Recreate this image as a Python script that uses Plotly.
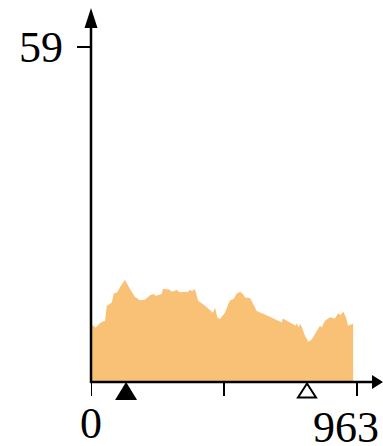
import plotly.graph_objects as go

# ---- data ----
x_vals = [0, 17, 35, 51, 57, 66, 75, 83, 95, 105, 123, 141, 159, 177, 195, 214, 226, 235,
          256, 260, 284, 292, 311, 320, 353, 358, 365, 376, 388, 406, 430, 442, 449, 457,
          467, 485, 502, 516, 528, 540, 550, 558, 576, 600, 648, 691, 694, 709, 742, 745,
          751, 757, 763, 775, 787, 799, 817, 829, 835, 847, 865, 883, 895, 904, 913, 923,
          931, 947, 949]
y_vals = [10.2, 9.6, 10.5, 10.8, 13.4, 13.7, 14.0, 15.6, 15.8, 16.7, 18.0, 16.4, 15.0, 14.4,
          14.5, 15.3, 15.5, 15.2, 15.5, 16.4, 16.3, 15.9, 16.2, 15.8, 15.9, 16.3, 16.0, 16.4,
          14.3, 13.7, 12.8, 12.2, 13.1, 11.4, 11.1, 12.2, 14.3, 14.6, 15.6, 15.9, 15.5, 14.9,
          14.8, 12.5, 11.5, 10.5, 11.2, 10.8, 9.9, 10.4, 9.6, 10.2, 9.7, 8.1, 7.1, 7.5, 9.0,
          9.9, 9.6, 10.8, 11.4, 11.2, 12.1, 11.8, 12.4, 11.4, 9.9, 10.3, 10.3]
x_ticks = [0, 481.5, 963]
x_tick_labels = ["0", "963"]
y_max = 59
filled_marker_x = [127]
open_marker_x = [782]

W, H = 383, 446
L, B = 91, 44
plot_w, plot_h = W - L, H - B
ZERO_PY = 382           # pixel row of y = 0
k = 335 / y_max         # pixels per y unit
x_range = [0, 963 * plot_w / 266]
y_range = [-(plot_h - ZERO_PY) / k, ZERO_PY / k]

def px(p):
    return (p - L) / plot_w

def py(p):
    return (plot_h - p) / plot_h

FILL = "#F8C176"
FONT = dict(family="Liberation Serif", size=44, color="black")

fig = go.Figure()
fig.add_trace(go.Scatter(x=x_vals, y=y_vals, mode="lines", fill="tozeroy",
                         fillcolor=FILL, line=dict(width=0, color=FILL),
                         hoverinfo="skip", showlegend=False))

shapes = [
    # y axis line + arrow
    dict(type="line", xref="paper", yref="paper", x0=px(91), x1=px(91), y0=py(383), y1=py(25),
         line=dict(color="black", width=2.5)),
    dict(type="path", xref="paper", yref="paper",
         path=f"M{px(84.5)},{py(28)} L{px(97.5)},{py(28)} L{px(91)},{py(8)} Z",
         fillcolor="black", line=dict(width=0)),
    # x axis line + arrow
    dict(type="line", xref="paper", yref="paper", x0=px(90), x1=px(374), y0=py(382), y1=py(382),
         line=dict(color="black", width=2.5)),
    dict(type="path", xref="paper", yref="paper",
         path=f"M{px(372)},{py(375)} L{px(372)},{py(389)} L{px(383)},{py(382)} Z",
         fillcolor="black", line=dict(width=0)),
]
# x tick marks
for t in x_ticks:
    shapes.append(dict(type="line", xref="x", yref="paper", x0=t, x1=t, y0=py(382), y1=py(396),
                       line=dict(color="black", width=2)))
# triangle markers (pixel-sized, anchored at data x on y = 0)
for mx in filled_marker_x:
    shapes.append(dict(type="path", xref="x", yref="y", xsizemode="pixel", ysizemode="pixel",
                       xanchor=mx, yanchor=0, path="M-11,-18 L11,-18 L0,0 Z",
                       fillcolor="black", line=dict(width=0), layer="above"))
for mx in open_marker_x:
    shapes.append(dict(type="path", xref="x", yref="y", xsizemode="pixel", ysizemode="pixel",
                       xanchor=mx, yanchor=0, path="M-9,-15.5 L9,-15.5 L0,-1.5 Z",
                       fillcolor="white", line=dict(width=2, color="black"), layer="above"))

annotations = [
    dict(x=x_ticks[0], y=0, xref="x", yref="y", text=x_tick_labels[0], showarrow=False,
         xanchor="center", yanchor="middle", yshift=-41, height=36, font=FONT),
    dict(x=x_ticks[2], y=0, xref="x", yref="y", text=x_tick_labels[1], showarrow=False,
         xanchor="center", yanchor="middle", yshift=-45, xshift=-11, height=32, font=FONT),
    dict(x=0, y=y_max, xref="x", yref="y", text=str(y_max), showarrow=False,
         xanchor="center", yanchor="middle", xshift=-50, font=FONT),
]

fig.update_layout(
    width=W, height=H, margin=dict(l=L, r=0, t=0, b=B),
    paper_bgcolor="white", plot_bgcolor="white",
    shapes=shapes, annotations=annotations,
    xaxis=dict(range=x_range, showgrid=False, zeroline=False, showline=False,
               showticklabels=False, ticks=""),
    yaxis=dict(range=y_range, showgrid=False, zeroline=False, showline=False,
               tickvals=[y_max], ticks="outside", ticklen=13, tickwidth=2, tickcolor="black",
               showticklabels=False),
)

fig.write_html("out.html")
